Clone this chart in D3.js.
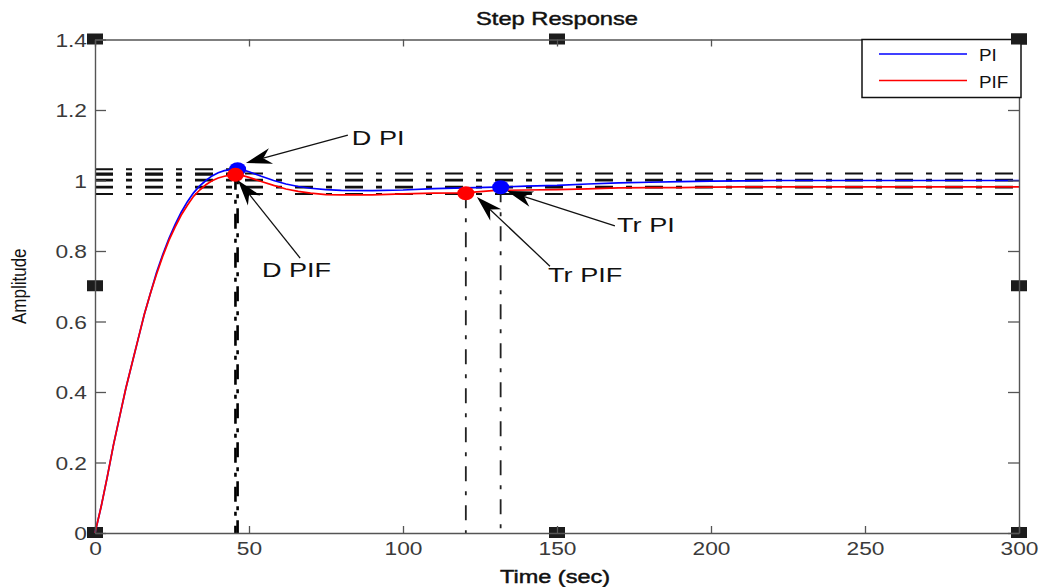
<!DOCTYPE html>
<html>
<head>
<meta charset="utf-8">
<script src="https://cdn.jsdelivr.net/npm/d3@7"></script>
<style>
  html, body { margin: 0; padding: 0; background: #fff; }
  svg { display: block; }
  text { font-family: "Liberation Sans", Arial, sans-serif; }
</style>
</head>
<body>
<svg id="chart" width="1041" height="587"></svg>
<script>
// ---------------- data ----------------
const titleText = "Step Response";
const xLabelText = "Time (sec)";
const yLabelText = "Amplitude";
const seriesNames = ["PI", "PIF"];
const seriesColors = ["#0000ff", "#ff0000"];

const xTicks = [0, 50, 100, 150, 200, 250, 300];
const yTicks = [0, 0.2, 0.4, 0.6, 0.8, 1, 1.2, 1.4];
const yTickLabels = ["0", "0.2", "0.4", "0.6", "0.8", "1", "1.2", "1.4"];

const time = [0,2,4,6,8,10,12,14,16,18,20,22,24,26,28,30,32,34,36,38,40,42,44,46,48,50,54,58,62,66,70,75,80,90,100,110,120,130,140,150,160,170,180,190,200,210,220,240,260,280,300];
const yPI  = [0,.075,.16,.25,.33,.41,.48,.55,.62,.68,.74,.79,.835,.875,.91,.94,.965,.985,1.0,1.013,1.022,1.028,1.031,1.032,1.03,1.025,1.012,1.0,.99,.983,.978,.974,.972,.971,.973,.977,.979,.981,.984,.986,.99,.993,.995,.997,.998,.999,1.0,1.0,1.0,1.0,1.0];
const yPIF = [0,.075,.16,.25,.33,.41,.48,.55,.62,.68,.735,.785,.83,.868,.902,.93,.955,.973,.988,.999,1.007,1.012,1.015,1.016,1.014,1.009,.997,.986,.976,.969,.964,.96,.959,.959,.962,.964,.965,.972,.973,.974,.976,.979,.98,.98,.981,.982,.982,.982,.982,.982,.982];

// characteristic points [time, amplitude]
const peakPI  = [46.3, 1.032];
const peakPIF = [45.6, 1.016];
const trPI    = [131.7, 0.981];
const trPIF   = [120.4, 0.964];
// settling bands / steady-state levels
const bandsPI  = [1.02, 1.0, 0.98];
const bandsPIF = [1.002, 0.982, 0.962];

// annotations (data coordinates)
const annLabels = ["D PI", "D PIF", "Tr PI", "Tr PIF"];
const annText   = [[83.4, 1.101], [54.2, 0.726], [169.5, 0.854], [147.1, 0.712]];
const annTail   = [[82.1, 1.129], [66.6, 0.780], [168.8, 0.871], [147.7, 0.757]];
const annTip    = [[49.0, 1.050], [46.4, 1.001], [133.8, 0.970], [124.0, 0.953]];

// ---------------- drawing ----------------
const svg = d3.select("#chart");
svg.append("rect").attr("width", 1041).attr("height", 587).attr("fill", "#fff");

const x = d3.scaleLinear().domain([0, 300]).range([95, 1019]);
const y = d3.scaleLinear().domain([0, 1.4]).range([533, 39.5]);
const [x0, x1] = x.range();
const [y0, y1] = y.range();
const axisColor = "#555";

// selection handles
const hx = [x0, (x0 + x1) / 2, x1];
const hy = [y1, (y0 + y1) / 2, y0];
const handles = [];
hx.forEach((a, i) => hy.forEach((b, j) => { if (!(i === 1 && j === 1)) handles.push([a, b]); }));
svg.append("g").selectAll("rect").data(handles).join("rect")
  .attr("x", d => d[0] - 8).attr("y", d => d[1] - 6)
  .attr("width", 16).attr("height", 11).attr("fill", "#1c1c1c");

// dash-dot reference lines
const refG = svg.append("g");
const dd = "18,13,6,13";
bandsPI.concat(bandsPIF).forEach(v => {
  refG.append("line").attr("x1", x0).attr("x2", x1)
    .attr("y1", y(v)).attr("y2", y(v))
    .attr("stroke", "#111").attr("stroke-width", 2).attr("stroke-dasharray", dd);
});
[peakPI, peakPIF].forEach(p => {
  refG.append("line").attr("x1", x0).attr("x2", x(p[0]))
    .attr("y1", y(p[1])).attr("y2", y(p[1]))
    .attr("stroke", "#111").attr("stroke-width", 2).attr("stroke-dasharray", dd);
  refG.append("line").attr("x1", x(p[0])).attr("x2", x(p[0]))
    .attr("y1", y(p[1])).attr("y2", y0)
    .attr("stroke", "#000").attr("stroke-width", 2.6).attr("stroke-dasharray", "15,10,4,10");
});
[trPI, trPIF].forEach(p => {
  refG.append("line").attr("x1", x(p[0])).attr("x2", x(p[0]))
    .attr("y1", y(p[1])).attr("y2", y0)
    .attr("stroke", "#222").attr("stroke-width", 1.8).attr("stroke-dasharray", "15,10,4,10");
});

// curves
const line = d3.line().x(d => x(d[0])).y(d => y(d[1]));
[yPI, yPIF].forEach((vals, i) => {
  svg.append("path").datum(time.map((t, k) => [t, vals[k]]))
    .attr("d", line).attr("fill", "none")
    .attr("stroke", seriesColors[i]).attr("stroke-width", 1.7);
});

// axes
const ticksLen = 7;
const gB = svg.append("g").attr("transform", `translate(0,${y0})`)
  .call(d3.axisBottom(x).tickValues(xTicks).tickSizeInner(-ticksLen).tickSizeOuter(0));
const gT = svg.append("g").attr("transform", `translate(0,${y1})`)
  .call(d3.axisTop(x).tickValues(xTicks).tickSizeInner(-ticksLen).tickSizeOuter(0).tickFormat(""));
const gL = svg.append("g").attr("transform", `translate(${x0},0)`)
  .call(d3.axisLeft(y).tickValues(yTicks).tickSizeInner(-11).tickSizeOuter(0)
        .tickFormat((d, i) => yTickLabels[i]));
const gR = svg.append("g").attr("transform", `translate(${x1},0)`)
  .call(d3.axisRight(y).tickValues(yTicks).tickSizeInner(-11).tickSizeOuter(0).tickFormat(""));
[gB, gT, gL, gR].forEach(g => {
  g.selectAll(".domain").attr("stroke", axisColor).attr("stroke-width", 1.4);
  g.selectAll(".tick line").attr("stroke", axisColor).attr("stroke-width", 1.3);
});
const S = 1.23;
gB.selectAll(".tick text")
  .attr("y", 22).attr("dy", 0).attr("font-size", 18.5).attr("fill", "#3a3a3a")
  .attr("font-family", "Liberation Sans, Arial, sans-serif")
  .attr("transform", `scale(${S},1)`);
gL.selectAll(".tick text")
  .attr("x", -8 / S).attr("dy", 0).attr("y", 6.5).attr("font-size", 18.5).attr("fill", "#3a3a3a")
  .attr("font-family", "Liberation Sans, Arial, sans-serif")
  .attr("transform", `scale(${S},1)`);

// markers
const markers = [[trPI, 0], [peakPI, 0], [trPIF, 1], [peakPIF, 1]];
svg.append("g").selectAll("ellipse").data(markers).join("ellipse")
  .attr("cx", d => x(d[0][0])).attr("cy", d => y(d[0][1]))
  .attr("rx", 8.5).attr("ry", 7)
  .attr("fill", d => seriesColors[d[1]]);

// arrows
const arrowG = svg.append("g");
annLabels.forEach((lab, i) => {
  const tx = x(annTail[i][0]), ty = y(annTail[i][1]);
  const px = x(annTip[i][0]), py = y(annTip[i][1]);
  const ang = Math.atan2(py - ty, px - tx);
  const L = 26, W = 8, N = 18;
  const ux = Math.cos(ang), uy = Math.sin(ang);
  const bx = px - ux * L, by = py - uy * L;
  const nx = px - ux * N, ny = py - uy * N;
  arrowG.append("line").attr("x1", tx).attr("y1", ty).attr("x2", nx).attr("y2", ny)
    .attr("stroke", "#111").attr("stroke-width", 1.3);
  const pts = [[px, py], [bx - uy * W, by + ux * W], [nx, ny], [bx + uy * W, by - ux * W]];
  arrowG.append("polygon").attr("points", pts.map(p => p.join(",")).join(" ")).attr("fill", "#000");
  svg.append("text")
    .attr("transform", `translate(${x(annText[i][0])},${y(annText[i][1])}) scale(1.29,1)`)
    .attr("font-size", 21).attr("fill", "#111").text(lab);
});

// title and axis labels
svg.append("text").attr("transform", `translate(${(x0 + x1) / 2},25) scale(1.27,1)`)
  .attr("text-anchor", "middle").attr("font-size", 18.6).attr("fill", "#111")
  .attr("stroke", "#111").attr("stroke-width", 0.45)
  .attr("textLength", 162 / 1.27).attr("lengthAdjust", "spacingAndGlyphs")
  .text(titleText);
svg.append("text").attr("transform", `translate(${(x0 + x1) / 2 - 2},583) scale(1.27,1)`)
  .attr("text-anchor", "middle").attr("font-size", 18.3).attr("fill", "#111")
  .attr("stroke", "#111").attr("stroke-width", 0.45)
  .attr("textLength", 110 / 1.27).attr("lengthAdjust", "spacingAndGlyphs")
  .text(xLabelText);
svg.append("text").attr("transform", `translate(26,${(y0 + y1) / 2}) scale(1.2,1) rotate(-90)`)
  .attr("text-anchor", "middle").attr("font-size", 17).attr("fill", "#111")
  .text(yLabelText);

// legend
const lg = svg.append("g");
lg.append("rect").attr("x", 862).attr("y", 39.5).attr("width", 159).attr("height", 58)
  .attr("fill", "#fff").attr("stroke", "#111").attr("stroke-width", 1.5);
seriesNames.forEach((n, i) => {
  const ly = 54 + i * 26.5;
  lg.append("line").attr("x1", 879).attr("x2", 967).attr("y1", ly).attr("y2", ly)
    .attr("stroke", seriesColors[i]).attr("stroke-width", 1.6);
  lg.append("text").attr("transform", `translate(979,${ly + 7}) scale(1.18,1)`)
    .attr("font-size", 16).attr("fill", "#111").text(n);
});
// corner handle over legend
svg.append("rect").attr("x", x1 - 8).attr("y", y1 - 6).attr("width", 16).attr("height", 11).attr("fill", "#1c1c1c");
</script>
</body>
</html>
